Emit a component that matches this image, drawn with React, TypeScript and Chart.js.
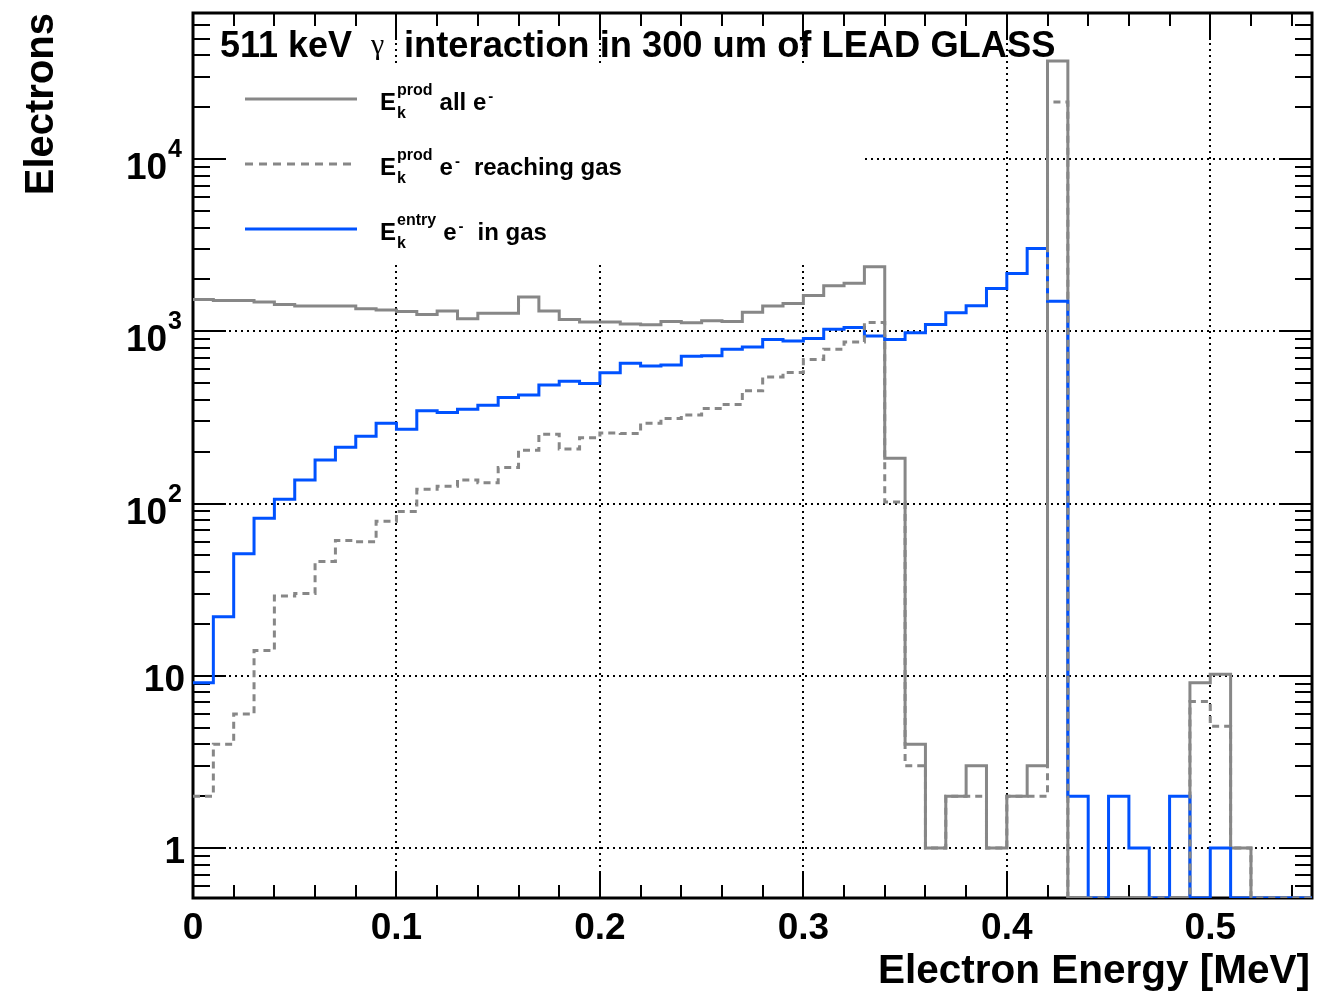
import React, { useEffect, useRef } from 'react';
import { Chart, registerables } from 'chart.js';

Chart.register(...registerables);

// ---------- data (55 bins of 0.01 MeV from 0 to 0.55 MeV) ----------
const BIN_WIDTH = 0.01;
const X_MIN = 0;
const X_MAX = 0.55;
const Y_MIN = 0.5126;
const Y_MAX = 70400;

const ALL_E = [
  1530, 1510, 1510, 1480, 1430, 1400, 1400, 1400, 1350, 1330,
  1300, 1250, 1310, 1180, 1270, 1270, 1580, 1310, 1170, 1130,
  1130, 1100, 1090, 1140, 1120, 1150, 1140, 1290, 1400, 1450,
  1610, 1840, 1900, 2370, 183, 4, 1, 2, 3, 1,
  2, 3, 37100, 0, 0, 0, 0, 0, 0, 9.1,
  10.2, 1, 0, 0, 0,
];

const REACHING_GAS = [
  2, 4, 6, 14, 29, 30, 46, 61, 60, 79,
  90, 121, 126, 137, 132, 162, 204, 252, 207, 241,
  257, 255, 292, 312, 326, 356, 376, 451, 543, 576,
  686, 787, 867, 1125, 102, 3, 1, 2, 2, 1,
  2, 2, 21400, 0, 0, 0, 0, 0, 0, 7.1,
  5.1, 1, 0, 0, 0,
];

const IN_GAS = [
  9.1, 22, 51, 82, 106, 137, 179, 212, 246, 292,
  270, 345, 338, 353, 372, 412, 426, 487, 513, 498,
  574, 651, 628, 636, 717, 720, 787, 811, 896, 879,
  907, 1028, 1052, 937, 896, 979, 1096, 1280, 1405, 1772,
  2163, 3020, 1495, 2, 0, 2, 1, 0, 2, 0,
  1, 0, 0, 0, 0,
];

const X_TICKS = [0, 0.1, 0.2, 0.3, 0.4, 0.5];
const X_TICK_LABELS = ['0', '0.1', '0.2', '0.3', '0.4', '0.5'];
const X_MINOR_STEP = 0.02;
const Y_TICKS = [1, 10, 100, 1000, 10000];
const Y_TICK_BASES = ['1', '10', '10', '10', '10'];
const Y_TICK_EXPONENTS = ['', '', '2', '3', '4'];

const TITLE_LEFT = '511 keV';
const TITLE_GREEK = 'γ';
const TITLE_RIGHT = 'interaction in 300 um of LEAD GLASS';
const X_TITLE = 'Electron Energy [MeV]';
const Y_TITLE = 'Electrons';

const LEGEND_SUPS = ['prod', 'prod', 'entry'];
const LEGEND_TEXTS = [['all e', ''], ['e', 'reaching gas'], ['e', 'in gas']];

const GRAY = '#878787';
const BLUE = 'rgb(0, 82, 255)';

// ---------- helpers ----------
function histPoints(values: number[]) {
  const pts = values.map((v, i) => ({ x: X_MIN + i * BIN_WIDTH, y: v > 0 ? v : Y_MIN }));
  pts.push({ x: X_MIN + values.length * BIN_WIDTH, y: pts[pts.length - 1].y });
  return pts;
}

const SANS = '"Liberation Sans", Arial, Helvetica, sans-serif';
const SERIF = '"Liberation Serif", "Times New Roman", serif';

const rootStyle = {
  id: 'rootStyle',
  beforeDatasetsDraw(chart: any) {
    const ctx = chart.ctx as CanvasRenderingContext2D;
    const { left, right, top, bottom } = chart.chartArea;
    const xs = chart.scales.x;
    const ys = chart.scales.y;
    ctx.save();
    // grid
    ctx.strokeStyle = '#000';
    ctx.lineWidth = 2;
    ctx.setLineDash([2, 4]);
    X_TICKS.forEach((v) => {
      if (v <= X_MIN) return;
      const px = Math.round(xs.getPixelForValue(v));
      ctx.beginPath();
      ctx.moveTo(px, top);
      ctx.lineTo(px, bottom);
      ctx.stroke();
    });
    Y_TICKS.forEach((v) => {
      const py = Math.round(ys.getPixelForValue(v));
      ctx.beginPath();
      ctx.moveTo(left, py);
      ctx.lineTo(right, py);
      ctx.stroke();
    });
    ctx.setLineDash([]);
    // legend background
    ctx.fillStyle = '#fff';
    ctx.fillRect(196, 66, 862 - 196, 263 - 66);
    // ticks
    ctx.strokeStyle = '#000';
    ctx.lineWidth = 2;
    const nx = Math.round((X_MAX - X_MIN) / X_MINOR_STEP);
    for (let k = 0; k <= nx; k++) {
      const v = X_MIN + k * X_MINOR_STEP;
      if (v > X_MAX + 1e-9) break;
      const major = X_TICKS.some((t) => Math.abs(t - v) < 1e-9);
      const len = major ? 27 : 13;
      const px = Math.round(xs.getPixelForValue(v));
      ctx.beginPath();
      ctx.moveTo(px, bottom);
      ctx.lineTo(px, bottom - len);
      ctx.moveTo(px, top);
      ctx.lineTo(px, top + len);
      ctx.stroke();
    }
    for (let d = -1; d <= 5; d++) {
      for (let m = 1; m <= 9; m++) {
        const v = m * Math.pow(10, d);
        if (v < Y_MIN || v > Y_MAX) continue;
        const len = m === 1 ? 33 : 17;
        const py = Math.round(ys.getPixelForValue(v));
        ctx.beginPath();
        ctx.moveTo(left, py);
        ctx.lineTo(left + len, py);
        ctx.moveTo(right, py);
        ctx.lineTo(right - len, py);
        ctx.stroke();
      }
    }
    // frame
    ctx.lineWidth = 3;
    ctx.strokeRect(left, top, right - left, bottom - top);
    ctx.restore();
  },
  afterDatasetsDraw(chart: any) {
    const ctx = chart.ctx as CanvasRenderingContext2D;
    const { right, top, bottom } = chart.chartArea;
    const xs = chart.scales.x;
    const ys = chart.scales.y;
    ctx.save();
    ctx.fillStyle = '#000';
    ctx.textBaseline = 'alphabetic';
    // x tick labels
    ctx.font = `bold 37px ${SANS}`;
    ctx.textAlign = 'center';
    X_TICKS.forEach((v, i) => {
      ctx.fillText(X_TICK_LABELS[i], xs.getPixelForValue(v), bottom + 41);
    });
    // y tick labels
    Y_TICKS.forEach((v, i) => {
      const py = ys.getPixelForValue(v);
      const base = Y_TICK_BASES[i];
      const exp = Y_TICK_EXPONENTS[i];
      if (!exp) {
        ctx.font = `bold 37px ${SANS}`;
        ctx.textAlign = 'right';
        ctx.fillText(base, 185, py + 15);
      } else {
        ctx.font = `bold 25px ${SANS}`;
        ctx.textAlign = 'left';
        const ew = ctx.measureText(exp).width;
        const ex = 182 - ew;
        ctx.fillText(exp, ex, py - 2);
        ctx.font = `bold 37px ${SANS}`;
        ctx.textAlign = 'right';
        ctx.fillText(base, ex - 1, py + 20);
      }
    });
    // axis titles
    ctx.font = `bold 40.5px ${SANS}`;
    ctx.textAlign = 'right';
    ctx.fillText(X_TITLE, right - 2, 983);
    ctx.font = `bold 40px ${SANS}`;
    ctx.save();
    ctx.translate(53, top);
    ctx.rotate(-Math.PI / 2);
    ctx.textAlign = 'right';
    ctx.fillText(Y_TITLE, 0, 0);
    ctx.restore();
    // title
    ctx.textAlign = 'left';
    ctx.font = `bold 36px ${SANS}`;
    ctx.fillText(TITLE_LEFT, 220, 57);
    ctx.font = `30px ${SERIF}`;
    ctx.fillText(TITLE_GREEK, 371, 54);
    ctx.font = `bold 36.3px ${SANS}`;
    ctx.fillText(TITLE_RIGHT, 404, 57);
    // legend
    const rows = [99, 164, 229];
    const styles = [
      { color: GRAY, dash: [] as number[] },
      { color: GRAY, dash: [8, 6] },
      { color: BLUE, dash: [] as number[] },
    ];
    rows.forEach((ry, i) => {
      ctx.strokeStyle = styles[i].color;
      ctx.lineWidth = 3;
      ctx.setLineDash(styles[i].dash);
      ctx.beginPath();
      ctx.moveTo(245, ry);
      ctx.lineTo(357, ry);
      ctx.stroke();
      ctx.setLineDash([]);
      ctx.fillStyle = '#000';
      ctx.textAlign = 'left';
      ctx.font = `bold 24px ${SANS}`;
      let x = 380;
      ctx.fillText('E', x, ry + 11);
      x += ctx.measureText('E').width + 1;
      ctx.font = `bold 16px ${SANS}`;
      const sw = ctx.measureText(LEGEND_SUPS[i]).width;
      ctx.fillText(LEGEND_SUPS[i], x, ry - 4);
      ctx.fillText('k', x, ry + 19);
      x += sw + 7;
      ctx.font = `bold 24px ${SANS}`;
      const [a, b] = LEGEND_TEXTS[i];
      ctx.fillText(a, x, ry + 11);
      x += ctx.measureText(a).width + 2;
      ctx.font = `bold 15px ${SANS}`;
      ctx.fillText('-', x, ry + 2);
      x += ctx.measureText('-').width + 14;
      if (b) {
        ctx.font = `bold 24px ${SANS}`;
        ctx.fillText(b, x, ry + 11);
      }
    });
    ctx.restore();
  },
};

export default function App() {
  const ref = useRef<HTMLCanvasElement | null>(null);
  useEffect(() => {
    if (!ref.current) return;
    const chart = new Chart(ref.current, {
      type: 'line',
      data: {
        datasets: [
          {
            label: 'E_k^prod e- reaching gas',
            data: histPoints(REACHING_GAS),
            borderColor: GRAY,
            borderWidth: 3,
            borderDash: [7, 5],
            stepped: 'before',
            pointRadius: 0,
            fill: false,
            order: 0,
          },
          {
            label: 'E_k^entry e- in gas',
            data: histPoints(IN_GAS),
            borderColor: BLUE,
            borderWidth: 3,
            stepped: 'before',
            pointRadius: 0,
            fill: false,
            order: 1,
          },
          {
            label: 'E_k^prod all e-',
            data: histPoints(ALL_E),
            borderColor: GRAY,
            borderWidth: 3,
            stepped: 'before',
            pointRadius: 0,
            fill: false,
            order: 2,
          },
        ],
      },
      options: {
        animation: false,
        responsive: false,
        devicePixelRatio: 1,
        events: [],
        parsing: false,
        layout: { padding: { left: 193, top: 13, right: 19, bottom: 95 } },
        plugins: {
          legend: { display: false },
          title: { display: false },
          tooltip: { enabled: false },
        },
        scales: {
          x: { type: 'linear', min: X_MIN, max: X_MAX, display: false },
          y: { type: 'logarithmic', min: Y_MIN, max: Y_MAX, display: false },
        },
      },
      plugins: [rootStyle],
    } as any);
    return () => chart.destroy();
  }, []);
  return (
    <div style={{ position: 'absolute', left: 0, top: 0, width: 1331, height: 993, background: '#fff' }}>
      <canvas ref={ref} width={1331} height={993} style={{ display: 'block', width: 1331, height: 993 }} />
    </div>
  );
}
